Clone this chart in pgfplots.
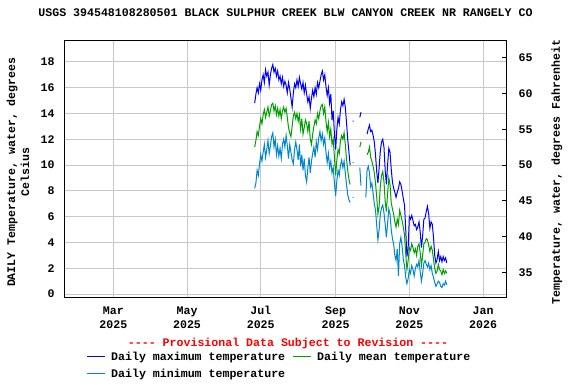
\documentclass[border=0pt]{standalone}
\usepackage{fontspec}
\setmonofont{Liberation Mono}
\usepackage{pgfplots}
\pgfplotsset{compat=1.18}
\usepackage{pgfplotstable}
\definecolor{cmax}{RGB}{0,0,255}
\definecolor{cmean}{RGB}{0,160,0}
\definecolor{cmin}{RGB}{0,136,204}
\definecolor{gridc}{RGB}{200,200,200}
\newcommand{\ff}{\ttfamily\bfseries\fontsize{11.6}{14}\selectfont}

\pgfplotstableread{
d max mean min
176 14.8 11.4 8.2
177 15.5 11.9 8.6
178 16.0 12.6 9.6
179 15.6 12.3 9.2
180 16.3 13.0 10.1
181 15.8 13.6 10.8
182 16.6 13.2 10.3
183 17.0 13.9 11.0
184 16.4 14.3 11.6
185 17.4 13.7 10.6
186 16.9 14.1 11.2
187 17.2 14.5 11.9
188 16.2 13.8 10.9
189 17.0 14.2 11.5
190 17.5 14.7 12.2
191 17.8 14.8 12.5
192 17.2 14.2 11.4
193 17.5 14.6 12.0
194 16.9 13.9 10.8
195 17.3 14.4 11.5
196 16.6 13.8 10.7
197 16.9 14.3 11.3
198 16.3 13.6 10.5
199 16.8 14.2 11.6
200 16.1 14.5 12.0
201 16.5 14.1 11.4
202 16.2 14.4 12.3
203 15.6 13.7 11.5
204 16.4 12.9 10.5
205 15.9 12.5 11.6
206 15.2 12.2 11.0
207 14.5 13.0 10.4
208 15.6 13.8 10.1
209 16.3 14.1 11.2
210 16.0 13.6 11.8
211 16.6 14.0 11.2
212 16.1 13.4 10.4
213 16.8 13.9 11.6
214 16.3 12.8 9.9
215 15.9 13.6 10.8
216 16.4 12.4 9.6
217 15.6 12.9 10.5
218 16.2 13.5 9.2
219 15.5 13.2 8.7
220 14.9 12.6 9.8
221 15.3 13.4 10.6
222 14.4 12.0 9.4
223 15.2 11.6 10.3
224 15.8 12.4 10.9
225 15.3 13.0 11.4
226 16.0 13.5 10.6
227 15.5 13.2 11.8
228 16.4 14.0 11.2
229 16.0 13.6 12.1
230 16.5 14.2 12.6
231 17.0 14.6 11.9
232 17.3 14.7 12.4
233 16.6 14.0 11.6
234 17.0 14.5 12.1
235 16.1 13.4 11.0
236 15.4 12.6 10.2
237 16.0 13.3 10.9
238 14.8 12.2 9.8
239 15.5 12.8 10.3
240 13.5 11.6 9.4
241 14.2 12.0 9.8
242 12.4 10.6 8.6
243 11.2 9.2 7.6
244 12.8 10.4 8.8
245 13.7 11.2 9.6
246 13.2 10.9 9.2
247 14.3 11.9 10.0
248 14.9 12.3 10.4
249 14.6 12.0 9.8
250 15.1 12.5 10.3
251 14.5 11.6 9.4
252 13.3 10.5 8.5
253 12.0 9.6 7.7
254 11.0 8.9 7.3
255 10.0 8.5 7.1
256 nan nan nan
257 13.4 10.2 7.5
257.8 13.4 10.2 7.5
258 nan nan nan
263 13.7 11.4 9.8
264 14.1 11.8 8.4
265 nan nan nan
268 nan nan 7.5
269 12.4 10.8 9.6
270 12.8 11.0 9.9
271 13.1 11.4 9.4
272 12.6 10.6 8.3
273 12.7 10.3 8.6
274 12.3 9.9 7.8
275 11.8 9.4 7.0
276 10.8 8.6 6.5
277 9.5 7.5 5.3
278 8.6 6.2 4.2
279 9.8 6.8 5.0
280 11.1 8.4 6.2
281 11.8 9.2 6.7
282 12.0 9.5 6.9
283 11.4 8.7 6.3
284 9.6 7.2 5.4
285 8.5 6.4 4.4
286 10.0 7.8 5.5
287 11.3 9.0 6.6
288 11.0 8.5 6.2
289 9.7 7.1 5.0
290 8.7 6.6 4.3
291 8.2 6.2 3.9
292 7.9 5.6 3.0
293 7.5 5.2 2.6
294 7.9 5.8 3.5
295 8.2 5.4 1.4
296 8.7 6.5 3.9
297 8.5 6.1 4.4
298 8.0 5.7 3.7
299 7.4 5.2 2.7
300 6.9 4.6 2.2
301 5.0 3.1 1.3
302 2.9 1.9 0.8
303 3.5 2.6 1.2
304 6.0 3.6 1.9
305 5.8 3.4 1.6
306 6.1 3.9 2.2
307 5.7 3.6 1.9
308 5.3 3.2 1.4
309 5.4 3.5 2.0
310 5.0 3.0 2.3
311 5.2 3.7 2.1
312 5.6 3.9 2.6
313 4.8 3.2 1.7
314 3.6 2.2 1.0
315 4.5 3.0 1.6
316 5.8 3.9 2.4
317 5.9 4.0 2.6
318 6.4 4.3 2.3
319 6.8 4.2 2.1
320 6.2 3.8 2.4
321 5.1 3.3 1.9
322 5.6 3.7 2.2
323 5.4 3.4 1.6
324 4.4 2.7 1.3
325 3.0 2.0 0.9
326 2.4 1.6 0.6
327 2.7 1.8 0.8
328 3.3 2.3 1.0
329 2.6 1.9 0.9
330 2.9 1.8 0.6
331 2.5 1.5 0.5
332 2.9 1.9 0.8
333 2.6 1.6 0.7
334 2.8 1.8 1.0
335 2.4 1.6 0.7
}\tdata

\begin{document}
\begin{tikzpicture}[x=1pt,y=1pt]
\useasboundingbox (0,0) rectangle (576,384);
\begin{axis}[
  at={(65pt,87pt)}, anchor=south west,
  width=441pt, height=257pt, scale only axis,
  clip mode=individual,
  xmin=19, xmax=384, ymin=-0.23, ymax=19.7,
  xtick={59,120,181,243,304,365},
  xticklabels={Mar\\2025,May\\2025,Jul\\2025,Sep\\2025,Nov\\2025,Jan\\2026},
  ytick={0,2,4,6,8,10,12,14,16,18},
  yticklabels={0,2,4,6,8,10,12,14,16,18},
  grid=major, major grid style={draw=gridc, line width=1pt},
  major tick length=0pt,
  axis line style={line width=1pt, black},
  tick label style={font=\ff},
  xticklabel style={align=center, yshift=-6pt},
  yticklabel style={xshift=-7pt},
  axis y line*=left,
  axis x line*=box,
  title={USGS 394548108280501 BLACK SULPHUR CREEK BLW CANYON CREEK NR RANGELY CO},
  title style={at={(axis description cs:0.5,1.0817)}, anchor=center, font=\ff},
  ylabel={DAILY Temperature, water, degrees\\Celsius},
  ylabel style={at={(axis description cs:-0.1066,0.486)}, anchor=center, align=center, font=\ff},
  unbounded coords=jump,
  legend columns=2,
  legend cell align=left,
  legend style={at={(axis description cs:0.0476,-0.205)}, anchor=north west,
    draw=none, fill=none, font=\ff, inner sep=0pt, row sep=3pt,
    /tikz/every odd column/.append style={column sep=4pt},
    /tikz/every even column/.append style={column sep=5pt}},
  legend image code/.code={\draw[#1,line width=1pt] (0pt,0pt) -- (18pt,0pt);},
]
\addplot[cmax, line width=1pt] table[x=d, y=max] {\tdata};
\addlegendentry{Daily maximum temperature}
\addplot[cmean, line width=1pt] table[x=d, y=mean] {\tdata};
\addlegendentry{Daily mean temperature}
\addplot[cmin, line width=1pt] table[x=d, y=min] {\tdata};
\addlegendentry{Daily minimum temperature}
\node[font=\ff, text=red, anchor=center] at (axis description cs:0.5057,-0.182) {---- Provisional Data Subject to Revision ----};
\draw[black, line width=1pt] (rel axis cs:0,0) rectangle (rel axis cs:1,1);
\end{axis}
\begin{axis}[
  at={(65pt,87pt)}, anchor=south west,
  width=441pt, height=257pt, scale only axis,
  xmin=19, xmax=384, ymin=31.586, ymax=67.46,
  axis x line=none, axis y line*=right,
  ytick={35,40,45,50,55,60,65},
  yticklabels={35,40,45,50,55,60,65},
  tick label style={font=\ff},
  yticklabel style={xshift=9pt},
  major tick length=4pt, tick align=inside,
  tick style={line width=1pt, black},
  axis line style={line width=1pt, black},
  ylabel={Temperature, water, degrees Fahrenheit},
  ylabel style={at={(axis description cs:1.1156,0.486)}, anchor=center, font=\ff},
]
\end{axis}
\end{tikzpicture}
\end{document}
